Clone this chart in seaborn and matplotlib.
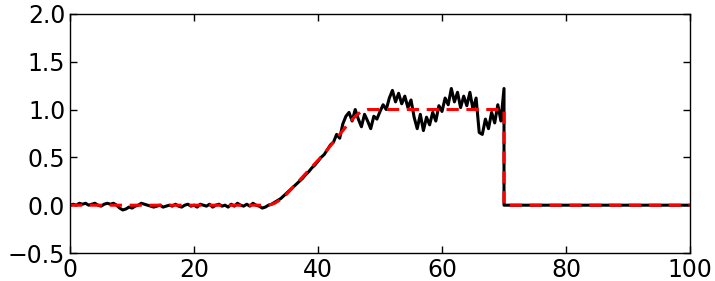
import numpy as np
import pandas as pd
import matplotlib
matplotlib.use("Agg")
import matplotlib.pyplot as plt
import seaborn as sns

sns.set_style("ticks")
plt.rcParams['font.family'] = ['DejaVu Sans']
plt.rcParams['xtick.direction'] = 'in'
plt.rcParams['ytick.direction'] = 'in'
plt.rcParams['xtick.top'] = True
plt.rcParams['ytick.right'] = True

# measured signal (black), sampled every 0.5 up to the switch-off at 70
signal_y = [
    0.00, 0.01, 0.00, 0.02, 0.01, 0.02, 0.00, 0.01, 0.02, 0.00,
    -0.01, 0.01, 0.02, 0.01, 0.02, 0.00, -0.03, -0.05, -0.04, -0.02,
    -0.03, -0.01, 0.00, 0.02, 0.01, 0.00, -0.01, -0.02, -0.01, 0.00,
    -0.02, -0.01, 0.00, -0.01, 0.01, -0.01, -0.02, 0.00, 0.01, -0.01,
    0.00, -0.02, 0.01, 0.00, -0.01, 0.01, -0.02, 0.00, 0.01, -0.01,
    0.00, -0.02, 0.01, -0.01, 0.02, 0.00, -0.01, 0.01, -0.01, 0.02,
    0.00, -0.01, -0.03, -0.02, 0.00,
    0.01, 0.03, 0.05, 0.07, 0.10, 0.13, 0.16, 0.19, 0.22, 0.25,
    0.28, 0.32, 0.35, 0.39, 0.42, 0.46, 0.50, 0.53, 0.58, 0.63,
    0.66, 0.74, 0.70, 0.85, 0.93, 0.97, 0.88, 1.00, 0.90, 0.82,
    0.95, 0.88, 0.80, 0.93, 0.90, 0.98, 1.05, 1.00, 1.12, 1.20,
    1.08, 1.17, 1.06, 1.14, 1.02, 1.10, 0.92, 0.80, 0.95, 0.78,
    0.92, 0.84, 0.97, 0.88, 1.04, 0.98, 1.12, 1.05, 1.22, 1.08,
    1.18, 1.02, 1.14, 1.04, 1.18, 1.00, 1.12, 0.76, 0.74, 0.90,
    0.80, 0.97, 0.86, 1.05, 0.88, 1.22,
]
signal_x = list(np.arange(0, 70.01, 0.5))
# after the switch-off
signal_x += [70, 100]
signal_y += [0.0, 0.0]

# reference trajectory (red dashed)
ref_x = [0, 32, 33, 34, 35, 36, 37, 38, 39, 40, 41, 42, 43, 44, 45, 46, 47, 48, 70, 70, 100]
ref_y = [0, 0, 0.02, 0.06, 0.12, 0.19, 0.26, 0.33, 0.40, 0.47, 0.54, 0.62, 0.70,
         0.78, 0.86, 0.93, 0.98, 1.0, 1.0, 0.0, 0.0]

signal = pd.DataFrame({"t": signal_x, "v": signal_y})
ref = pd.DataFrame({"t": ref_x, "v": ref_y})

fig = plt.figure(figsize=(7.15, 2.81), dpi=100)
ax = fig.add_axes([0.098, 0.0996, 0.867, 0.851])

sns.lineplot(data=signal, x="t", y="v", estimator=None, sort=False,
             color="black", linewidth=2.2, ax=ax)
sns.lineplot(data=ref, x="t", y="v", estimator=None, sort=False,
             color="red", linewidth=2.2, linestyle=(0, (4, 2.5)), ax=ax)

ax.set_xlim(0, 100)
ax.set_ylim(-0.5, 2.0)
ax.set_xticks([0, 20, 40, 60, 80, 100])
ax.set_yticks([-0.5, 0.0, 0.5, 1.0, 1.5, 2.0])
ax.set_xlabel("")
ax.set_ylabel("")
ax.tick_params(labelsize=17, length=5, width=1, colors="black")
for s in ax.spines.values():
    s.set_linewidth(1)
    s.set_color("black")

fig.savefig("out.png", dpi=100)
